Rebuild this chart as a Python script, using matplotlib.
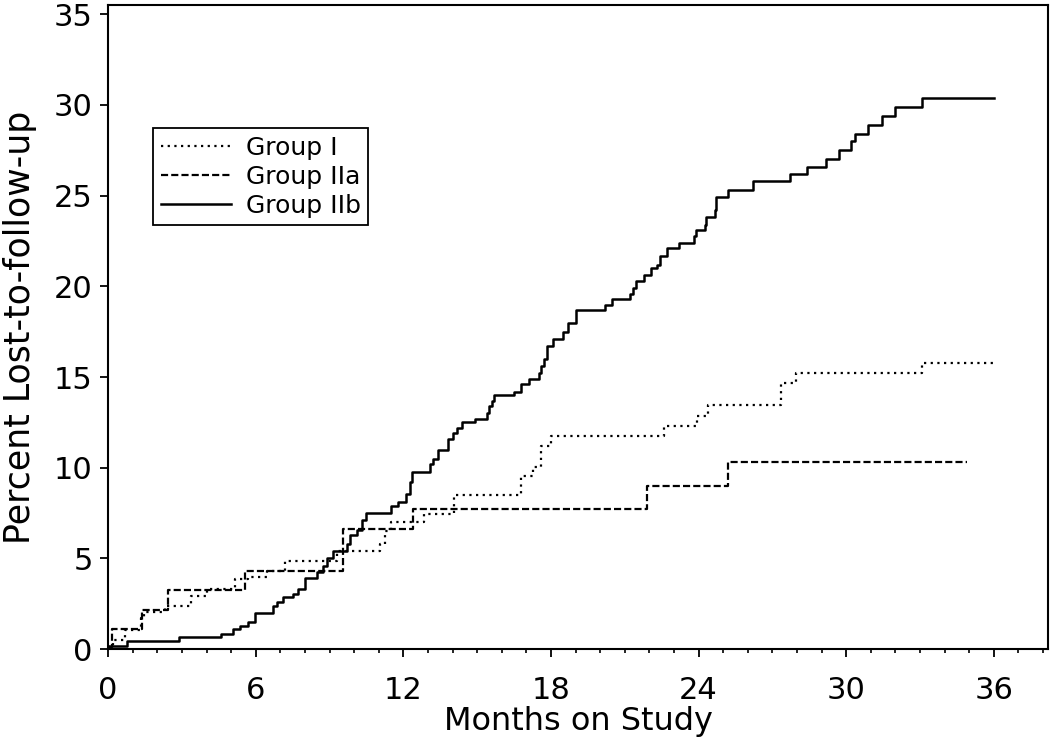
import matplotlib
matplotlib.use('Agg')
import matplotlib.pyplot as plt
from matplotlib.ticker import MultipleLocator

plt.rcParams['font.family'] = ['DejaVu Sans']

# Group I (dotted)
t_g1 = [0, 0.2, 0.7, 1.35, 1.45, 2.3, 3.35, 4.0, 5.15, 5.7, 6.45, 7.2, 9.3,
        11.05, 11.25, 11.5, 12.85, 14.05, 16.8, 17.25, 17.6, 18.0, 22.6,
        23.95, 24.4, 27.35, 27.95, 33.1, 36.0]
p_g1 = [0.1, 0.5, 1.05, 1.7, 2.05, 2.4, 2.95, 3.3, 3.85, 4.0, 4.3, 4.85, 5.4,
        5.8, 6.5, 7.0, 7.45, 8.5, 9.55, 10.05, 11.2, 11.75, 12.3,
        12.85, 13.45, 14.65, 15.2, 15.75, 15.75]

# Group IIa (dashed)
t_g2a = [0, 0.15, 1.38, 2.45, 5.57, 9.56, 12.4, 21.9, 25.2, 34.9]
p_g2a = [0.1, 1.1, 2.15, 3.25, 4.3, 6.6, 7.75, 9.0, 10.3, 10.3]

# Group IIb (solid)
t_g2b = [0, 0.77, 2.9, 4.6, 5.07, 5.37, 5.7, 5.98, 6.7, 6.87, 7.1, 7.5, 7.7,
         8.0, 8.5, 8.75, 8.9, 9.15, 9.7, 9.85, 10.1, 10.3, 10.5, 11.5, 11.8,
         12.1, 12.25, 12.35, 13.1, 13.2, 13.4, 13.8, 14.0, 14.2, 14.4, 14.9,
         15.4, 15.5, 15.6, 15.7, 16.5, 16.8, 17.1, 17.5, 17.6, 17.7, 17.85,
         18.1, 18.5, 18.7, 19.0, 20.2, 20.5, 21.2, 21.35, 21.45, 21.8, 22.05,
         22.3, 22.45, 22.7, 23.2, 23.8, 23.9, 24.25, 24.3, 24.65, 24.7, 25.2,
         26.2, 27.7, 28.4, 29.2, 29.7, 30.2, 30.35, 30.9, 31.45, 32.0, 33.1,
         36.0]
p_g2b = [0.15, 0.45, 0.65, 0.85, 1.1, 1.3, 1.5, 2.0, 2.4, 2.6, 2.85, 3.05, 3.3,
         3.9, 4.25, 4.6, 5.0, 5.4, 5.8, 6.3, 6.55, 7.1, 7.5, 7.9, 8.1,
         8.55, 9.2, 9.75, 10.2, 10.5, 11.0, 11.6, 11.9, 12.2, 12.5, 12.7,
         13.0, 13.4, 13.7, 14.0, 14.2, 14.6, 14.9, 15.2, 15.6, 16.0, 16.7,
         17.1, 17.5, 18.0, 18.7, 19.0, 19.3, 19.6, 19.9, 20.3, 20.6, 21.0,
         21.2, 21.7, 22.1, 22.4, 22.8, 23.1, 23.4, 23.8, 24.2, 24.9, 25.3,
         25.8, 26.2, 26.6, 27.0, 27.5, 28.0, 28.4, 28.9, 29.4, 29.9, 30.4,
         30.4]

fig = plt.figure(figsize=(10.5, 7.47), dpi=100)
ax = fig.add_axes([0.103, 0.131, 0.895, 0.862])

ax.step(t_g1, p_g1, where='post', color='black', lw=1.6, ls=(0, (1, 2)), label='Group I')
ax.step(t_g2a, p_g2a, where='post', color='black', lw=1.6, ls=(0, (3.2, 1.4)), label='Group IIa')
ax.step(t_g2b, p_g2b, where='post', color='black', lw=1.8, ls='-', label='Group IIb')

ax.set_xlim(0, 38.2)
ax.set_ylim(0, 35.5)
ax.set_xticks(range(0, 37, 6))
ax.set_yticks(range(0, 36, 5))
ax.xaxis.set_minor_locator(MultipleLocator(1))
ax.tick_params(axis='both', which='major', direction='out', length=6, width=1.3,
               labelsize=22, colors='black')
ax.tick_params(axis='x', which='major', pad=13)
ax.tick_params(axis='y', which='major', pad=5)
ax.tick_params(axis='x', which='minor', direction='out', length=3, width=1.2)
for s in ax.spines.values():
    s.set_linewidth(1.5)

ax.set_xlabel('Months on Study', fontsize=23, labelpad=1)
ax.set_ylabel('Percent Lost-to-follow-up', fontsize=25, labelpad=12)

leg = ax.legend(loc='upper left', bbox_to_anchor=(0.048, 0.809), borderaxespad=0,
                fontsize=18, handlelength=2.8, handletextpad=0.6, labelspacing=0.2,
                fancybox=False, framealpha=1, edgecolor='black', borderpad=0.3)
leg.get_frame().set_linewidth(1.3)

fig.savefig('out.png', dpi=100)
